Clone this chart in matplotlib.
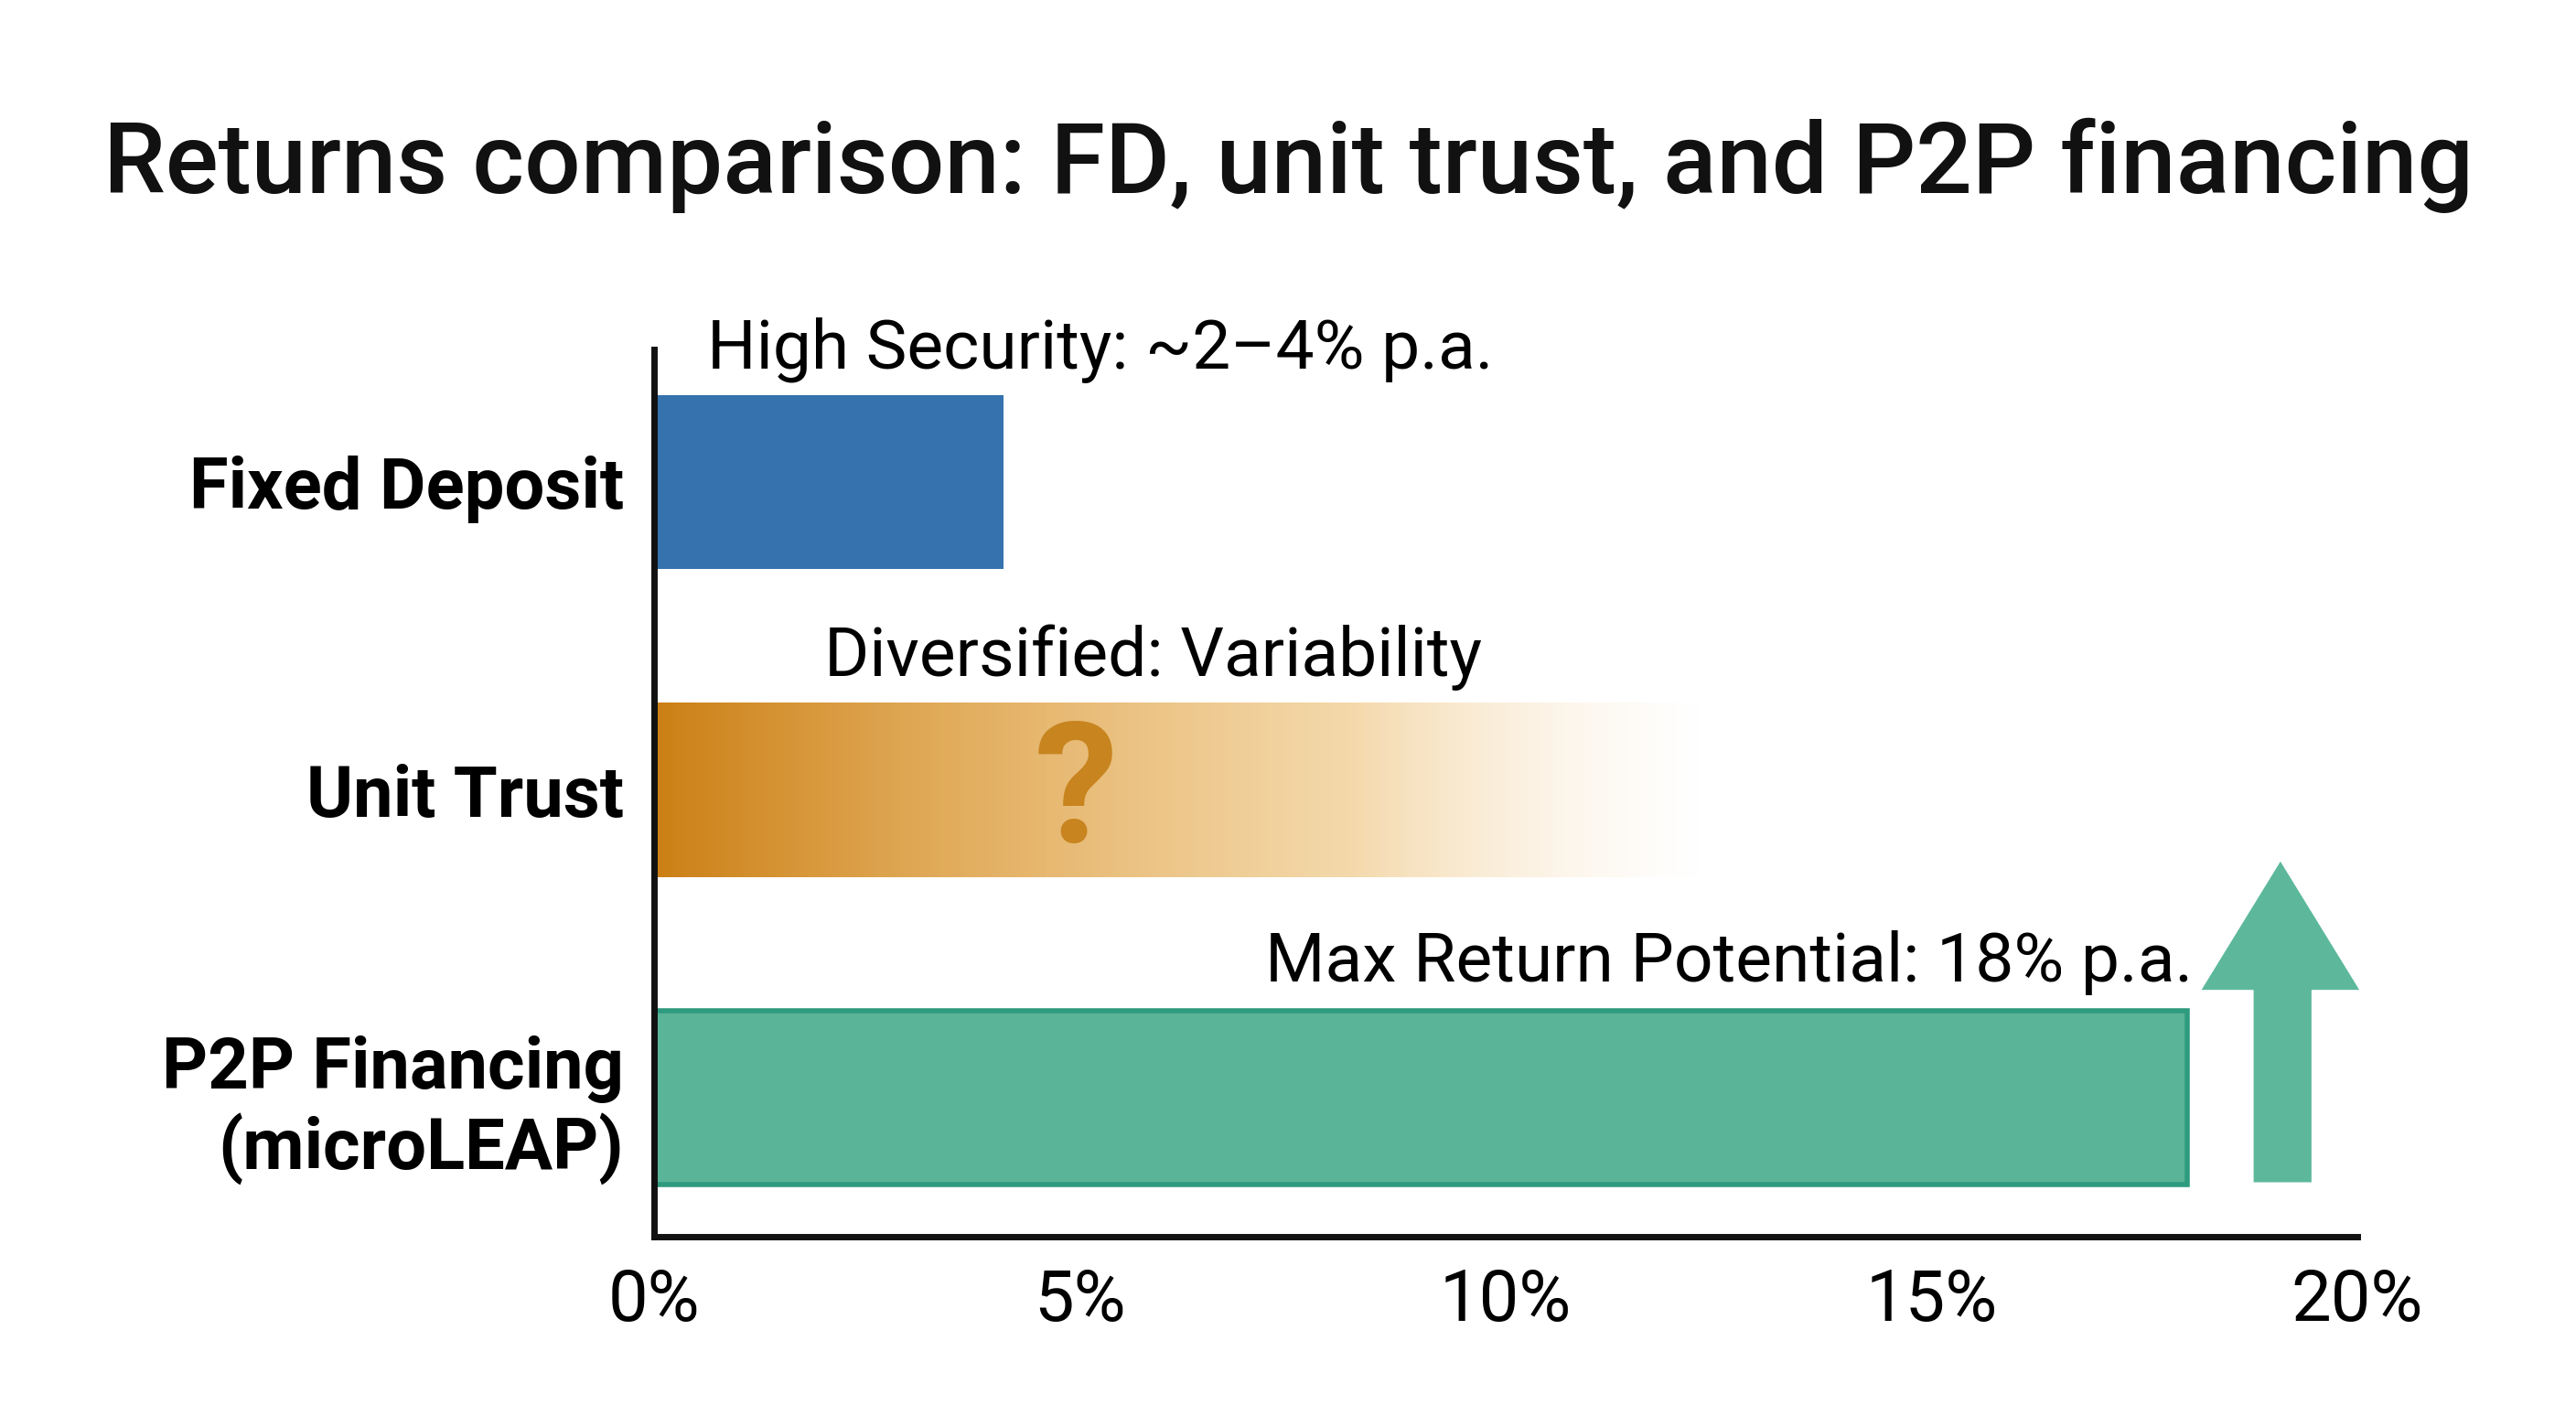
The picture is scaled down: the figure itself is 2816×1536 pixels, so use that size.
import numpy as np
import matplotlib.pyplot as plt
from matplotlib.colors import LinearSegmentedColormap
from matplotlib.patches import Polygon

plt.rcParams["font.family"] = ["Roboto", "DejaVu Sans"]

categories = ["P2P Financing\n(microLEAP)", "Unit Trust", "Fixed Deposit"]
returns = [18, 12.3, 4.1]
notes = ["Max Return Potential: 18% p.a.", "Diversified: Variability", "High Security: ~2\u20134% p.a."]
xticks = [0, 5, 10, 15, 20]
xtick_labels = ["0%", "5%", "10%", "15%", "20%"]

fig = plt.figure(figsize=(14.08, 7.68), dpi=200)
fig.patch.set_facecolor("white")
ax = fig.add_axes([0.254, 0.12, 0.661, 0.631])
h = 0.565
y = np.arange(len(categories))

# P2P
ax.barh(y[0], returns[0], height=h, color="#5AB497", edgecolor="#2E9A7E", linewidth=2)
# FD
ax.barh(y[2], returns[2], height=h, color="#3572AE")
# Unit trust gradient
cmap = LinearSegmentedColormap.from_list("ut", [(0.80, 0.50, 0.08, 1), (0.88, 0.65, 0.30, 0.85),
                                               (0.93, 0.75, 0.45, 0.6), (0.98, 0.90, 0.78, 0)])
grad = np.linspace(0, 1, 256).reshape(1, -1)
ax.imshow(grad, cmap=cmap, extent=[0, returns[1], y[1] - h / 2, y[1] + h / 2], aspect="auto", zorder=2)
ax.text(4.95, y[1] - 0.02, "?", ha="center", va="center", fontsize=66, fontweight="bold", color="#C8841F", zorder=3)

# arrow
arrow = Polygon([[18.8, -0.27], [19.45, -0.27], [19.45, 0.355], [20.0, 0.355], [19.1, 0.76],
                 [18.2, 0.355], [18.8, 0.355]], closed=True, color="#5DB89B", clip_on=False, zorder=3)
ax.add_patch(arrow)

ax.text(18.07, y[0] + h / 2 + 0.05, notes[0], ha="right", va="bottom", fontsize=27)
ax.text(2.0, y[1] + h / 2 + 0.04, notes[1], ha="left", va="bottom", fontsize=27)
ax.text(0.62, y[2] + h / 2 + 0.04, notes[2], ha="left", va="bottom", fontsize=27)

ax.set_xlim(0, 20)
ax.set_ylim(-0.45, 2.43)
ax.set_yticks(y)
ax.set_yticklabels(categories, fontsize=28, fontweight="bold", linespacing=1.15)
ax.set_xticks(xticks)
ax.set_xticklabels(xtick_labels, fontsize=28)
ax.tick_params(length=0, pad=12)
for s in ["top", "right"]:
    ax.spines[s].set_visible(False)
for s in ["left", "bottom"]:
    ax.spines[s].set_linewidth(2.5)
    ax.spines[s].set_color("#111111")

fig.text(0.5, 0.882, "Returns comparison: FD, unit trust, and P2P financing", ha="center", va="center",
         fontsize=39, fontweight="medium", color="#111111")
fig.savefig("out.png", dpi=200)
